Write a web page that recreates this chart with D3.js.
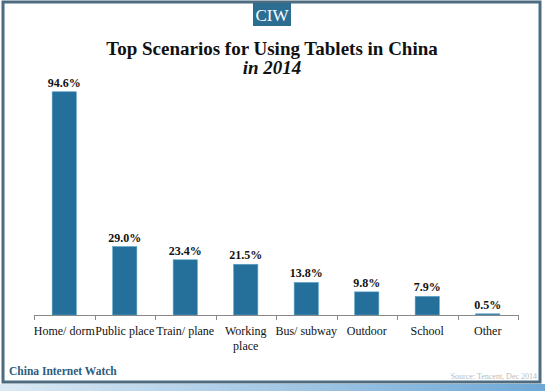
<!DOCTYPE html>
<html><head><meta charset="utf-8">
<script src="https://cdn.jsdelivr.net/npm/d3@7"></script>
<style>body{margin:0;background:#fff}svg{display:block}text{font-family:"Liberation Serif","Times New Roman","DejaVu Serif",serif}</style>
</head><body>
<script>
const categories = ["Home/ dorm","Public place","Train/ plane","Working place","Bus/ subway","Outdoor","School","Other"];
const values = [94.6, 29.0, 23.4, 21.5, 13.8, 9.8, 7.9, 0.5];
const valueLabels = ["94.6%","29.0%","23.4%","21.5%","13.8%","9.8%","7.9%","0.5%"];

const W = 545, H = 391;
const svg = d3.select("body").append("svg").attr("width", W).attr("height", H);
const defs = svg.append("defs");
const g1 = defs.append("linearGradient").attr("id","bot").attr("x1","0").attr("x2","1");
g1.append("stop").attr("offset","0").attr("stop-color","#dbe9f4");
g1.append("stop").attr("offset","1").attr("stop-color","#6fa8d6");

svg.append("rect").attr("x",0).attr("y",0).attr("width",W).attr("height",H).attr("fill","#fff");
svg.append("rect").attr("x",0).attr("y",384).attr("width",W).attr("height",7).attr("fill","url(#bot)");
svg.append("rect").attr("x",3).attr("y",2).attr("width",537).attr("height",380)
  .attr("fill","#fff").attr("stroke","#4d6c82").attr("stroke-width",3);

// CIW badge
svg.append("rect").attr("x",253).attr("y",3).attr("width",38).attr("height",23).attr("fill","#2c6e92");
svg.append("text").attr("x",272).attr("y",21).attr("text-anchor","middle")
  .attr("font-size",17).attr("fill","#fff").text("CIW");

// Title
svg.append("text").attr("x",272).attr("y",55).attr("text-anchor","middle")
  .attr("font-weight","bold").attr("font-size",19).attr("fill","#111")
  .text("Top Scenarios for Using Tablets in China");
svg.append("text").attr("x",272).attr("y",74).attr("text-anchor","middle")
  .attr("font-weight","bold").attr("font-style","italic").attr("font-size",19).attr("fill","#111")
  .text("in 2014");

const x = d3.scaleBand().domain(categories).range([34, 518]).paddingInner(0.6).paddingOuter(0.3);
const y = d3.scaleLinear().domain([0, 100]).range([315, 79]);

svg.selectAll("rect.bar").data(values).join("rect").attr("class","bar")
  .attr("x",(d,i)=>x(categories[i])).attr("width",x.bandwidth())
  .attr("y",d=>y(d)).attr("height",d=>y(0)-y(d))
  .attr("fill","#24709a").attr("stroke","#5aa2c9").attr("stroke-width",0.6);

svg.selectAll("text.val").data(values).join("text").attr("class","val")
  .attr("x",(d,i)=>x(categories[i])+x.bandwidth()/2).attr("y",d=>y(d)-5)
  .attr("text-anchor","middle").attr("font-weight","bold")
  .attr("font-size",12).attr("fill","#111").text((d,i)=>valueLabels[i]);

// axis
const xb = d3.scaleBand().domain(categories).range([34, 518]);
const axisG = svg.append("g");
axisG.append("line").attr("x1",34).attr("x2",518).attr("y1",315.5).attr("y2",315.5).attr("stroke","#888").attr("stroke-width",1);
const ticks = categories.map(c=>xb(c)).concat([518]);
axisG.selectAll("line.t").data(ticks).join("line").attr("class","t")
  .attr("x1",d=>Math.round(d)+0.5).attr("x2",d=>Math.round(d)+0.5).attr("y1",315).attr("y2",320).attr("stroke","#888");

const lab = svg.selectAll("text.cat").data(categories).join("text").attr("class","cat")
  .attr("x",d=>xb(d)+xb.bandwidth()/2).attr("y",335).attr("text-anchor","middle")
  .attr("font-size",12).attr("fill","#111");
lab.each(function(d){
  const t = d3.select(this);
  const lines = d === "Working place" ? ["Working","place"] : [d];
  lines.forEach((l,i)=>t.append("tspan").attr("x",xb(d)+xb.bandwidth()/2).attr("dy", i===0?0:15).text(l));
});

svg.append("text").attr("x",9).attr("y",375).attr("font-weight","bold")
  .attr("font-size",11.5).attr("fill","#2b5c7c").text("China Internet Watch");
svg.append("text").attr("x",537).attr("y",379).attr("text-anchor","end")
  .attr("font-size",8).attr("fill","#b8bcc0").text("Source: Tencent, Dec 2014");
</script>
</body></html>
